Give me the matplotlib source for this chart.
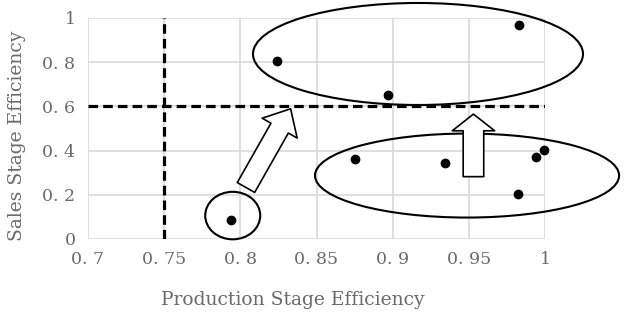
import matplotlib
matplotlib.use("Agg")
import matplotlib.pyplot as plt
from matplotlib.patches import Ellipse, FancyArrowPatch

# data
prod_eff = [0.794, 0.824, 0.897, 0.983, 0.875, 0.934, 0.994, 0.9995, 0.982]
sales_eff = [0.086, 0.807, 0.652, 0.968, 0.362, 0.343, 0.372, 0.403, 0.202]
x_ticks = [0.7, 0.75, 0.8, 0.85, 0.9, 0.95, 1.0]
x_tick_labels = ["0. 7", "0. 75", "0. 8", "0. 85", "0. 9", "0. 95", "1"]
y_ticks = [0, 0.2, 0.4, 0.6, 0.8, 1.0]
y_tick_labels = ["0", "0. 2", "0. 4", "0. 6", "0. 8", "1"]
x_threshold = 0.75
y_threshold = 0.6

grey = "#6a6a6a"
font = "DejaVu Serif"

fig = plt.figure(figsize=(6.24, 3.15), dpi=100)
ax = fig.add_axes([0.141, 0.2413, 0.7325, 0.7017])
ax.set_xlim(0.7, 1.0)
ax.set_ylim(0, 1.0)
ax.set_xticks(x_ticks)
ax.set_xticklabels(x_tick_labels, fontfamily=font, fontsize=12.5, color=grey)
ax.set_yticks(y_ticks)
ax.set_yticklabels(y_tick_labels, fontfamily=font, fontsize=12.5, color=grey)
ax.tick_params(length=0, pad=9)
ax.grid(True, color="#d9d9d9", linewidth=1.2)
ax.set_axisbelow(True)
for s in ax.spines.values():
    s.set_visible(False)

ax.axvline(x_threshold, color="black", linestyle=(0, (3.0, 1.6)), linewidth=2.3, zorder=3)
ax.axhline(y_threshold, color="black", linestyle=(0, (3.0, 1.6)), linewidth=2.3, zorder=3)

ax.scatter(prod_eff, sales_eff, s=36, color="black", zorder=5, clip_on=False)

ell_kw = dict(fill=False, edgecolor="black", linewidth=1.5, clip_on=False, zorder=4)
ax.add_patch(Ellipse((0.795, 0.106), 0.0361, 0.215, **ell_kw))
ax.add_patch(Ellipse((0.9166, 0.837), 0.2166, 0.4615, **ell_kw))
ax.add_patch(Ellipse((0.9488, 0.287), 0.1996, 0.380, **ell_kw))

arr_kw = dict(facecolor="white", edgecolor="black", linewidth=1.2, clip_on=False,
              zorder=4, mutation_scale=1, shrinkA=0, shrinkB=0)
ax.add_patch(FancyArrowPatch((0.8037, 0.233), (0.833, 0.589),
             arrowstyle="simple,head_length=16,head_width=29,tail_width=14.4", **arr_kw))
ax.add_patch(FancyArrowPatch((0.953, 0.282), (0.953, 0.565),
             arrowstyle="simple,head_length=12,head_width=30.5,tail_width=14.8", **arr_kw))

fig.text(0.469, 0.048, "Production Stage Efficiency", ha="center", va="center",
         fontfamily=font, fontsize=13.5, color=grey)
fig.text(0.027, 0.568, "Sales Stage Efficiency", ha="center", va="center", rotation=90,
         fontfamily=font, fontsize=13.5, color=grey)

fig.savefig("out.png", dpi=100)
